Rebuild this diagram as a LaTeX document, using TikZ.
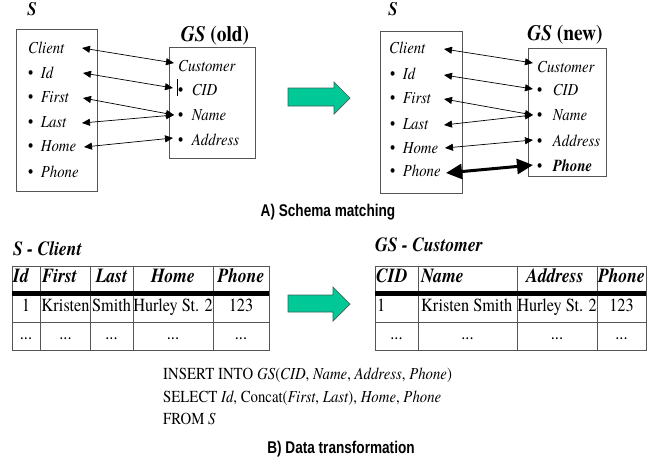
\documentclass[tikz,border=0pt]{standalone}
\usepackage{fontspec}
\newfontfamily\tms[FakeStretch=0.88,
  Extension=.otf,
  UprightFont=texgyretermes-regular,
  ItalicFont=texgyretermes-italic,
  BoldFont=texgyretermes-bold,
  BoldItalicFont=texgyretermes-bolditalic]{texgyretermes}
\newfontfamily\hel[FakeStretch=0.8,
  UprightFont={Liberation Sans},
  BoldFont={Liberation Sans Bold}]{Liberation Sans}
\usetikzlibrary{arrows.meta}
\definecolor{tealgreen}{RGB}{0,200,150}
\definecolor{arrowedge}{RGB}{60,100,85}
\definecolor{boxgray}{RGB}{85,85,85}
\begin{document}
\begin{tikzpicture}[x=1pt,y=-1pt,
  txt/.style={inner sep=0pt,text height=0.9em,text depth=0.24em},
  item/.style={txt,anchor=west,font=\tms\fontsize{16.8}{20}\selectfont\itshape},
  lbl/.style={txt,font=\tms\fontsize{22}{24}\selectfont\bfseries},
  cell/.style={txt,font=\tms\fontsize{18.5}{20}\selectfont},
  head/.style={txt,font=\tms\fontsize{20}{22}\selectfont\bfseries\itshape},
  ttl/.style={txt,anchor=west,font=\tms\fontsize{20}{22}\selectfont\bfseries\itshape},
  sql/.style={txt,anchor=west,font=\tms\fontsize{16.8}{20}\selectfont},
  capt/.style={txt,font=\hel\fontsize{17}{20}\selectfont\bfseries},
  schbox/.style={draw=boxgray,line width=0.9pt},
  tline/.style={draw=boxgray,line width=0.9pt},
  thickbar/.style={draw=black,line width=4.5pt},
  biarrow/.style={line width=0.7pt,{Triangle[length=8pt,width=7pt]}-{Triangle[length=8pt,width=7pt]}},
  boldarrow/.style={line width=3pt,{Triangle[length=16pt,width=15pt]}-{Triangle[length=16pt,width=15pt]}},
  bigarrow/.style={fill=tealgreen,draw=arrowedge,line width=0.7pt},
]
\useasboundingbox (0,0) rectangle (652,471);

% ---------- A) old ----------
\node[lbl,font=\tms\fontsize{19}{20}\selectfont\bfseries\itshape] (sOldT) at (32,12) {S};
\draw[schbox] (16,29) rectangle (97,191);
\node[item] (o1) at (28,50) {Client};
\node[item] (o2) at (28,75) {{\upshape •}\hspace{7.5pt}Id};
\node[item] (o3) at (28,99) {{\upshape •}\hspace{7.5pt}First};
\node[item] (o4) at (28,124) {{\upshape •}\hspace{7.5pt}Last};
\node[item] (o5) at (28,148) {{\upshape •}\hspace{7.5pt}Home};
\node[item] (o6) at (28,174) {{\upshape •}\hspace{7.5pt}Phone};

\node[lbl] (gOldT) at (215,38) {\textit{GS} (old)};
\draw[schbox] (169,47) rectangle (255,158);
\node[item] (g1) at (178,68) {Customer};
\node[item] (g2) at (178,92) {{\upshape •}\hspace{8.5pt}CID};
\node[item] (g3) at (178,117) {{\upshape •}\hspace{8.5pt}Name};
\node[item] (g4) at (178,142) {{\upshape •}\hspace{8.5pt}Address};
\coordinate (cur1) at (177,79);
\coordinate (cur2) at (177,96);
\draw[line width=0.7pt] (cur1) -- (cur2);

\coordinate (oL1) at (82,48);  \coordinate (oR1) at (174,63);
\coordinate (oL2) at (83,73);  \coordinate (oR2) at (173,88);
\coordinate (oL3) at (83,98);  \coordinate (oR3) at (174,115);
\coordinate (oL4) at (82,123);
\coordinate (oL5) at (84,147); \coordinate (oR5) at (173,138);
\draw[biarrow] (oL1) -- (oR1);
\draw[biarrow] (oL2) -- (oR2);
\draw[biarrow] (oL3) -- (oR3);
\draw[biarrow] (oL4) -- (oR3);
\draw[biarrow] (oL5) -- (oR5);

% big arrow 1
\draw[bigarrow] (288,88) -- (334,88) -- (334,82) -- (350,98) -- (334,114) -- (334,106) -- (288,106) -- cycle;

% ---------- A) new ----------
\node[lbl,font=\tms\fontsize{19}{20}\selectfont\bfseries\itshape] (sNewT) at (393,12) {S};
\draw[schbox] (380,31) rectangle (462,193);
\node[item] (n1) at (389,50) {Client};
\node[item] (n2) at (390,76) {{\upshape •}\hspace{7.5pt}Id};
\node[item] (n3) at (390,100) {{\upshape •}\hspace{7.5pt}First};
\node[item] (n4) at (390,126) {{\upshape •}\hspace{7.5pt}Last};
\node[item] (n5) at (390,150) {{\upshape •}\hspace{7.5pt}Home};
\node[item] (n6) at (390,173) {{\upshape •}\hspace{7.5pt}Phone};

\node[lbl] (gNewT) at (565,37) {\textit{GS} (new)};
\draw[schbox] (528,48) rectangle (606,176);
\node[item] (h1) at (537,69) {Customer};
\node[item] (h2) at (537,92) {{\upshape •}\hspace{10.5pt}CID};
\node[item] (h3) at (537,117) {{\upshape •}\hspace{10.5pt}Name};
\node[item] (h4) at (537,143) {{\upshape •}\hspace{10.5pt}Address};
\node[item] (h5) at (537,168) {{\upshape •}\hspace{10.5pt}\textbf{Phone}};

\coordinate (nL1) at (444,49);  \coordinate (nR1) at (533,63);
\coordinate (nL2) at (444,75);  \coordinate (nR2) at (533,89);
\coordinate (nL3) at (444,99);  \coordinate (nR3) at (533,115);
\coordinate (nL4) at (444,125);
\coordinate (nL5) at (445,148); \coordinate (nR5) at (533,140);
\coordinate (nL6) at (446,173); \coordinate (nR6) at (533,165);
\draw[biarrow] (nL1) -- (nR1);
\draw[biarrow] (nL2) -- (nR2);
\draw[biarrow] (nL3) -- (nR3);
\draw[biarrow] (nL4) -- (nR3);
\draw[biarrow] (nL5) -- (nR5);
\draw[boldarrow] (nL6) -- (nR6);

\node[capt] (capA) at (328,213) {A) Schema matching};

% ---------- B) tables ----------
\node[ttl] (tS) at (13,252) {S - Client};
\draw[tline] (12,266) rectangle (269,350);
\foreach \xx in {40.5,90.5,133,213} \draw[tline] (\xx,266) -- (\xx,350);
\draw[tline] (12,322) -- (269,322);
\draw[thickbar] (12,293.5) -- (269,293.5);
\node[head,anchor=west] (sh1) at (13,279) {Id};
\node[head,anchor=west] (sh2) at (42,279) {First};
\node[head] (sh3) at (111.5,279) {Last};
\node[head] (sh4) at (173,279) {Home};
\node[head] (sh5) at (241,279) {Phone};
\node[cell] (sr1) at (26,308) {1};
\node[cell] (sr2) at (65.5,308) {Kristen};
\node[cell] (sr3) at (111.5,308) {Smith};
\node[cell] (sr4) at (173,308) {Hurley St. 2};
\node[cell] (sr5) at (241,308) {123};
\node[cell] (sd1) at (26,336) {...};
\node[cell] (sd2) at (65.5,336) {...};
\node[cell] (sd3) at (111.5,336) {...};
\node[cell] (sd4) at (173,336) {...};
\node[cell] (sd5) at (241,336) {...};

% big arrow 2
\draw[bigarrow] (288,295) -- (333,295) -- (333,287) -- (350,304) -- (333,321) -- (333,312) -- (288,312) -- cycle;

\node[ttl] (tG) at (375,248) {GS - Customer};
\draw[tline] (375,266) rectangle (646,350);
\foreach \xx in {418,517,597} \draw[tline] (\xx,266) -- (\xx,350);
\draw[tline] (375,322) -- (646,322);
\draw[thickbar] (375,293.5) -- (646,293.5);
\node[head,anchor=west] (gh1) at (376,279) {CID};
\node[head,anchor=west] (gh2) at (421,279) {Name};
\node[head] (gh3) at (555,279) {Address};
\node[head] (gh4) at (621.5,279) {Phone};
\node[cell,anchor=west] (gr1) at (377,308) {1};
\node[cell,anchor=west] (gr2) at (421,308) {Kristen Smith};
\node[cell] (gr3) at (557,308) {Hurley St. 2};
\node[cell] (gr4) at (621.5,308) {123};
\node[cell] (gd1) at (396.5,336) {...};
\node[cell] (gd2) at (467.5,336) {...};
\node[cell] (gd3) at (557,336) {...};
\node[cell] (gd4) at (621.5,336) {...};

% SQL
\node[sql] (q1) at (163,376) {INSERT INTO \textit{GS}(\textit{CID}, \textit{Name}, \textit{Address}, \textit{Phone})};
\node[sql] (q2) at (163,399) {SELECT \textit{Id}, Concat(\textit{First}, \textit{Last}), \textit{Home}, \textit{Phone}};
\node[sql] (q3) at (163,421) {FROM \textit{S}};

\node[capt] (capB) at (341,450) {B) Data transformation};
\end{tikzpicture}
\end{document}
